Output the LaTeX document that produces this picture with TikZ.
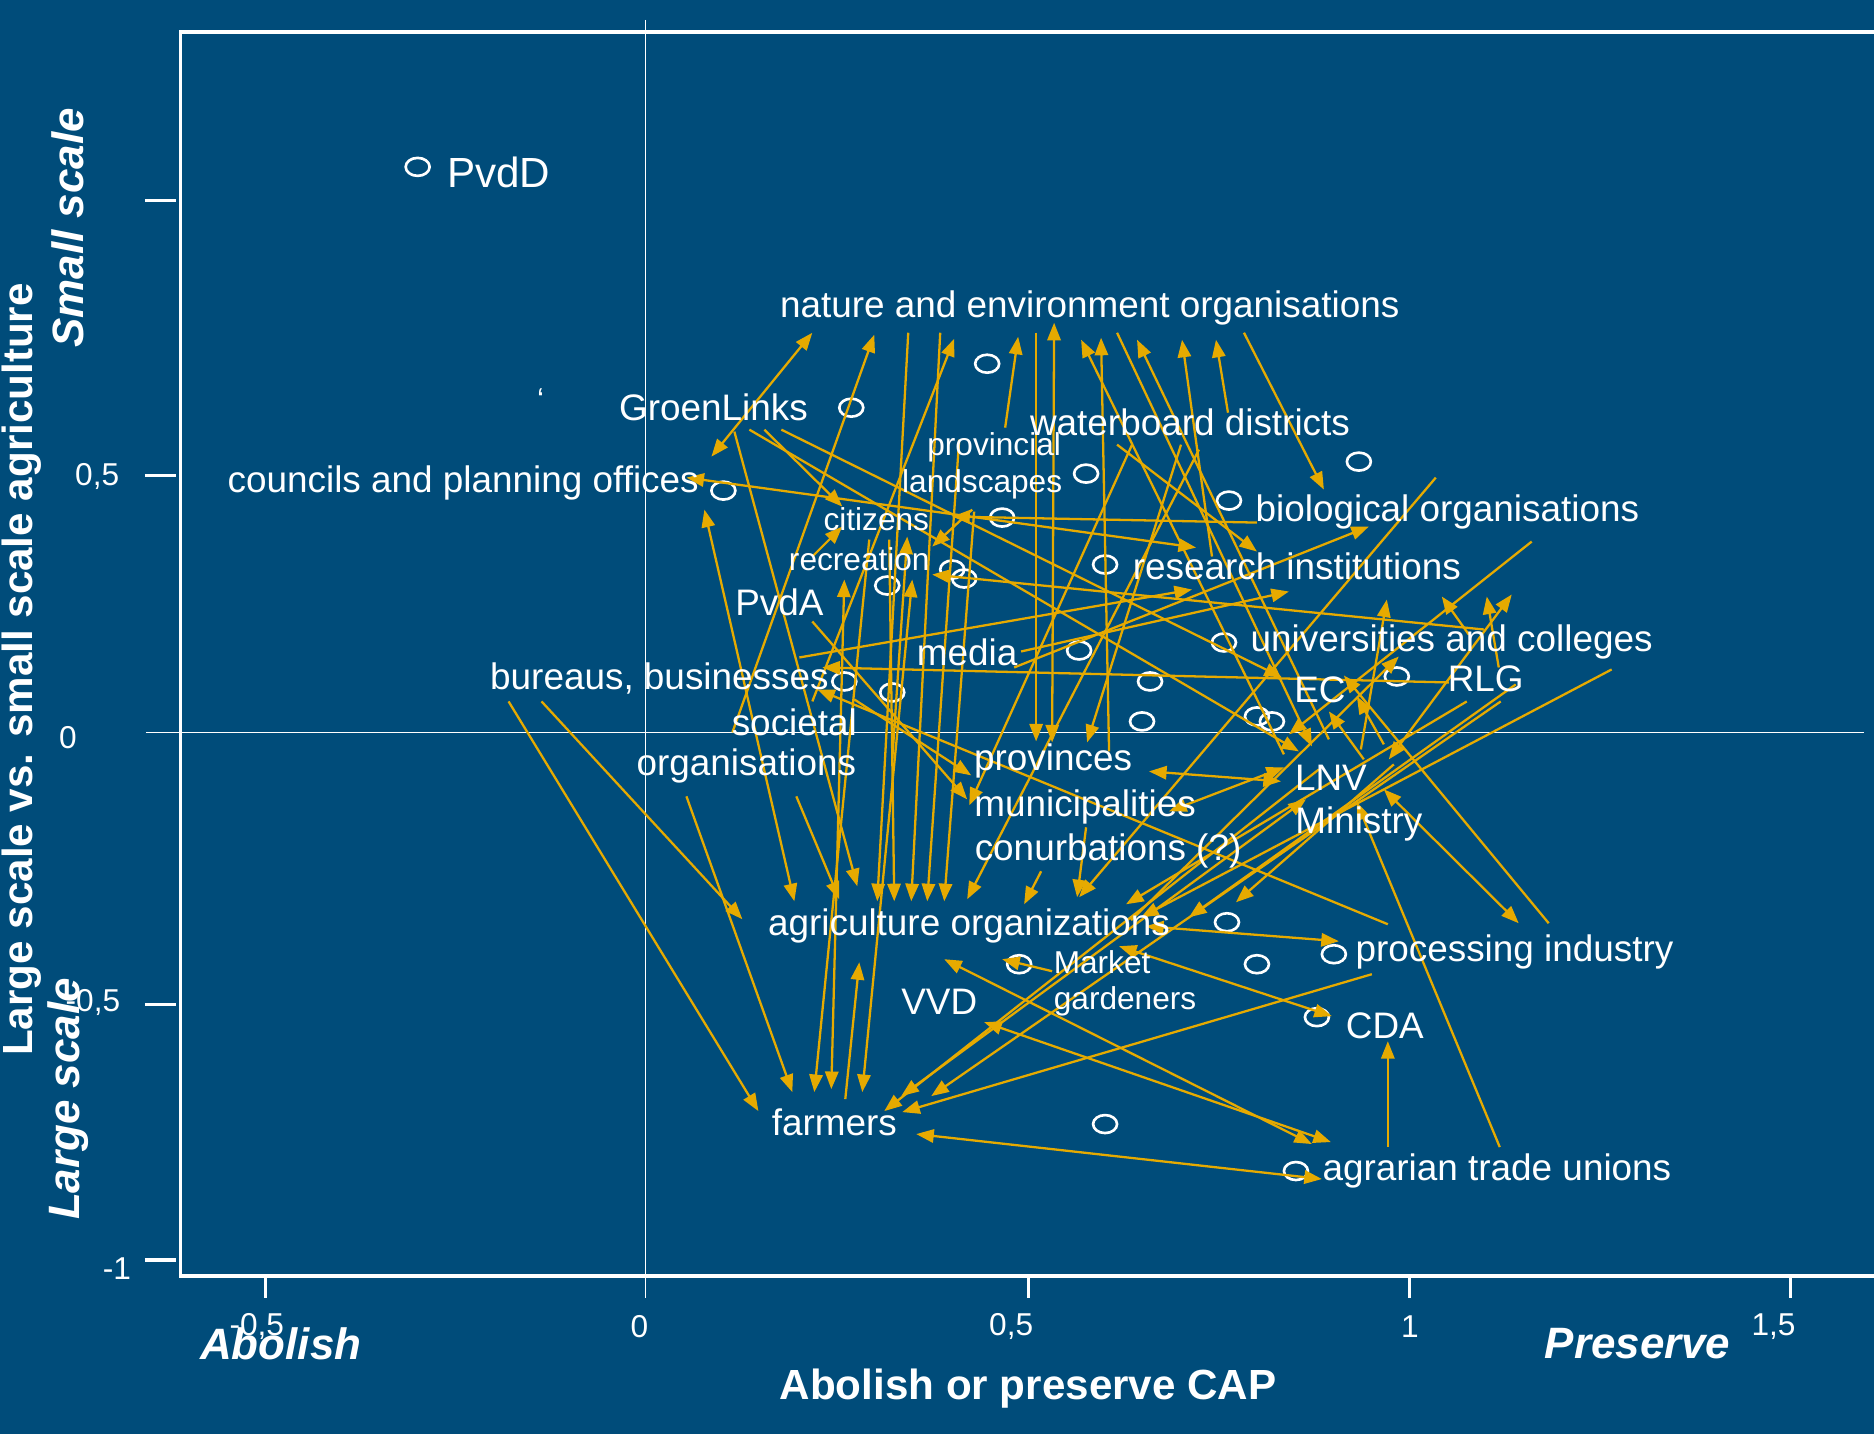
\documentclass[tikz,border=0pt]{standalone}
\usepackage{fontspec}
\setmainfont{Liberation Sans}
\usetikzlibrary{arrows.meta}
\definecolor{bg}{RGB}{0,76,122}
\definecolor{gold}{RGB}{230,170,0}

\begin{document}
\begin{tikzpicture}
[x=0.01cm,y=-0.01cm,%
  lbl/.style={text=white,inner sep=0pt,font=\fontsize{10.5}{12}\selectfont},%
  small/.style={lbl,font=\fontsize{9}{10}\selectfont},%
  tick/.style={text=white,inner sep=0pt,font=\fontsize{9}{10}\selectfont},%
  axtitle/.style={text=white,inner sep=0pt,font=\fontsize{12}{14}\selectfont\bfseries},%
  pole/.style={text=white,inner sep=0pt,font=\fontsize{12.5}{14}\selectfont\bfseries\itshape},%
  arr/.style={gold,line width=0.65pt,-{Triangle[length=5pt,width=3.8pt]}},%
  darr/.style={gold,line width=0.65pt,{Triangle[length=5pt,width=3.8pt]}-{Triangle[length=5pt,width=3.8pt]}},%
  pt/.style={white,line width=0.75pt}]
\fill[bg] (0,0) rectangle (1876,1435);

% frame and axes
\draw[white,line width=0.9pt] (1876,32) -- (181,32) -- (181,1277) -- (1876,1277);
\draw[white,line width=0.5pt] (646,20) -- (646,1299);
\draw[white,line width=0.5pt] (146,733) -- (1866,733);
\foreach \y in {201,476,1005,1261}
  \draw[white,line width=0.9pt] (145,\y) -- (176,\y);
\foreach \x in {266,1029,1411,1792}
  \draw[white,line width=0.9pt] (\x,1277) -- (\x,1299);

% tick labels
\node[tick,anchor=east] (y05) at (120,477) {0,5};
\node[tick] (y0) at (68,738) {0};
\node[tick] (ym05) at (93,1003) {-0,5};
\node[tick] (ym1) at (117,1270) {-1};
\node[tick] (xm05) at (257,1328) {-0,5};
\node[tick] (x0) at (640,1328) {0};
\node[tick] (x05) at (1012,1328) {0,5};
\node[tick] (x1) at (1411,1328) {1};
\node[tick] (x15) at (1775,1328) {1,5};

% axis titles
\node[axtitle,rotate=90] (ytitle) at (22,670) {Large scale vs. small scale agriculture};
\node[pole,rotate=90] (small) at (68,228) {Small scale};
\node[pole,rotate=90] (large) at (68,1100) {Large scale};
\node[pole] (abolish) at (281,1345) {Abolish};
\node[pole] (preserve) at (1639,1345) {Preserve};
\node[axtitle] (xtitle) at (1029,1390) {Abolish or preserve CAP};

% points
\foreach \x/\y in {418/167,852/408,988/364,724/491,1087/474,1360/462,1230/501,
    1003/518,1106/565,888/586,953/570,965/579,1080/651,1225/643,1398/677,
    845/682,893/693,1151/682,1143/722,1258/717,1273/722,1228/923,1020/965,
    1258/965,1335/955,1318/1018,1106/1125,1297/1172}
  \draw[pt] (\x,\y) ellipse [x radius=12,y radius=9];

% arrows
\foreach \a/\b/\c/\d in {509/702/759/1112,542/702/743/920,687/797/793/1093,
    797/797/840/900,735/432/858/887,765/430/843/507,782/430/1283/678,
    750/430/1300/752,733/733/875/335,909/333/878/902,941/333/912/902,
    813/702/955/339,1006/428/1019/337,1037/333/1037/742,1285/755/1082/340,
    1110/752/1102/338,1118/333/1313/747,1330/740/1138/340,1213/557/1183/340,
    1229/413/1217/340,1245/333/1325/490,1118/445/1258/552,1133/445/970/806,
    1182/445/1088/743,1200/450/968/900,813/557/843/527,1258/523/953/517,
    973/510/933/547,1485/630/933/575,846/1100/860/963,870/540/815/1093,
    1502/702/932/1097,1320/770/885/1112,1373/975/903/1113,1389/1148/1389/1042,
    1395/765/1237/903,1517/685/1190/918,1613/670/1142/918,1468/702/1127/905,
    1437/478/1080/898,1450/683/823/668,1389/925/818/690,1550/924/1345/676,
    1501/1148/1358/803,800/658/1193/590,1022/652/1290/592,1015/668/1370/527,
    1470/635/1443/597,1500/668/1488/597,1362/750/1388/600,1533/542/1290/735,
    813/622/968/800,855/700/972/776,1053/972/1003/960,1042/872/1025/905,
    1087/828/1078/898,890/540/895/902,960/440/928/902,975/512/945/902,
    1365/760/1330/712,1385/745/1358/697,1132/921/1400/657,893/760/908/537}
  \draw[arr] (\a,\b) -- (\c,\d);
\foreach \a/\b/\c/\d in {705/510/795/902,687/478/1197/548,712/457/813/333,
    1053/743/1055/323,845/580/832/1090,913/580/863/1093,902/1097/1307/800,
    917/1135/1323/1180,945/960/1313/1145,985/1023/1332/1143,1120/947/1333/1017,
    1147/927/1340/942,1385/790/1520/924,1150/772/1282/782,1170/812/1285/768,
    1390/760/1513/595}
  \draw[darr] (\a,\b) -- (\c,\d);

% labels
\node[lbl,anchor=west,font=\fontsize{12}{14}\selectfont] (pvdd) at (447,173) {PvdD};
\node[lbl,anchor=west] (nature) at (780,308) {nature and environment organisations};
\node[lbl] (groen) at (714,408) {GroenLinks};
\node[lbl,anchor=east] (councils) at (700,483) {councils and planning offices};
\node[lbl] (water) at (1191,423) {waterboard districts};
\node[small] (provincial) at (995,448) {provincial};
\node[small] (landsc) at (983,485) {landscapes};
\node[lbl,anchor=west] (bio) at (1256,512) {biological organisations};
\node[small] (citizens) at (877,520) {citizens};
\node[small] (recr) at (860,560) {recreation};
\node[lbl,anchor=west] (research) at (1133,567) {research institutions};
\node[lbl] (pvda) at (780,603) {PvdA};
\node[lbl,anchor=west] (univ) at (1251,642) {universities and colleges};
\node[lbl] (media) at (968,653) {media};
\node[lbl,anchor=east] (bureaus) at (830,679) {bureaus, businesses};
\node[lbl] (ec) at (1321,690) {EC};
\node[lbl] (rlg) at (1487,679) {RLG};
\node[lbl] (societal) at (795,723) {societal};
\node[lbl] (organis) at (747,767) {organisations};
\node[lbl] (provinces) at (1054,762) {provinces};
\node[lbl] (lnv) at (1332,778) {LNV};
\node[lbl] (munic) at (1086,808) {municipalities};
\node[lbl] (ministry) at (1360,825) {Ministry};
\node[lbl] (conurb) at (1109,852) {conurbations (?)};
\node[lbl,anchor=west] (agri) at (768,927) {agriculture organizations};
\node[lbl,anchor=west] (proc) at (1356,953) {processing industry};
\node[small] (market) at (1103,963) {Market};
\node[small] (garden) at (1126,1002) {gardeners};
\node[lbl] (vvd) at (940,1003) {VVD};
\node[lbl] (cda) at (1386,1027) {CDA};
\node[lbl] (farmers) at (835,1123) {farmers};
\node[lbl,anchor=west] (agrarian) at (1323,1172) {agrarian trade unions};
\node[small] (grave) at (541,400) {\symbol{96}};
\end{tikzpicture}
\end{document}
